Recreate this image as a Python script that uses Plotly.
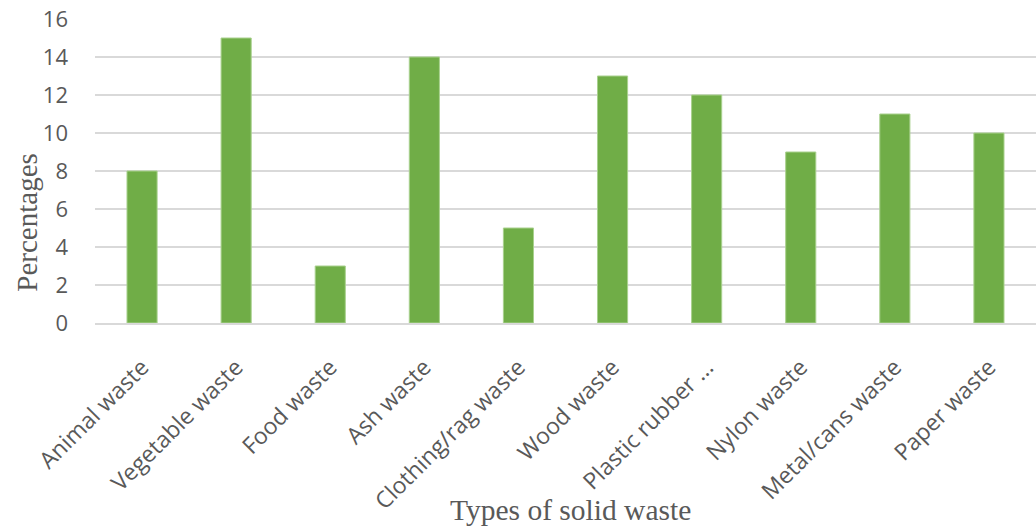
import plotly.graph_objects as go

# Solid waste composition by type
waste_types = [
    "Animal waste", "Vegetable waste", "Food waste", "Ash waste",
    "Clothing/rag waste", "Wood waste", "Plastic rubber ...", "Nylon waste",
    "Metal/cans waste", "Paper waste",
]
percentages = [8, 15, 3, 14, 5, 13, 12, 9, 11, 10]
y_ticks = [0, 2, 4, 6, 8, 10, 12, 14, 16]

TEXT_GREY = "#595959"
GRID_GREY = "#d9d9d9"

fig = go.Figure(
    go.Bar(
        x=waste_types,
        y=percentages,
        width=0.32,
        marker=dict(color="#70ad47", line=dict(color="#a9d18e", width=1)),
    )
)

fig.update_layout(
    width=1036,
    height=529,
    margin=dict(l=95, r=0, t=19, b=206),
    paper_bgcolor="white",
    plot_bgcolor="white",
    showlegend=False,
    font=dict(family="Open Sans", color=TEXT_GREY),
)

fig.update_xaxes(
    tickangle=-45,
    tickfont=dict(family="Open Sans", size=23, color=TEXT_GREY),
    showgrid=False,
    showline=True,
    linecolor=GRID_GREY,
    linewidth=1.5,
    ticks="",
    ticklabelstandoff=20,
    automargin=False,
)

fig.update_yaxes(
    range=[0, 16],
    tickvals=y_ticks,
    tickfont=dict(family="Open Sans", size=22, color=TEXT_GREY),
    showgrid=True,
    gridcolor=GRID_GREY,
    gridwidth=1.5,
    zeroline=False,
    ticks="",
    ticklabelstandoff=26,
    automargin=False,
)

# Axis titles placed as annotations in paper coordinates
fig.add_annotation(
    text="Types of solid waste",
    xref="paper", yref="paper",
    x=0.505, y=0,
    xanchor="center", yanchor="middle",
    yshift=-187,
    showarrow=False,
    font=dict(family="Liberation Serif", size=29.5, color=TEXT_GREY),
)
fig.add_annotation(
    text="Percentages",
    xref="paper", yref="paper",
    x=0, y=0.33,
    xanchor="center", yanchor="middle",
    xshift=-68,
    textangle=-90,
    showarrow=False,
    font=dict(family="Liberation Serif", size=29, color=TEXT_GREY),
)

fig.write_html("out.html")
